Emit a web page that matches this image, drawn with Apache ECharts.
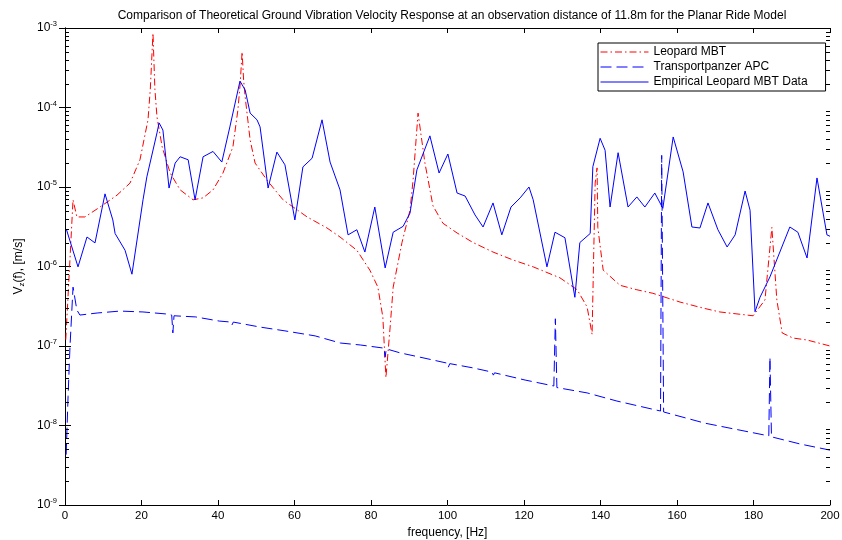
<!DOCTYPE html>
<html>
<head>
<meta charset="utf-8">
<script src="https://cdn.jsdelivr.net/npm/echarts@6/dist/echarts.min.js"></script>
<style>
  html, body { margin: 0; padding: 0; background: #fff; }
  #chart { width: 842px; height: 540px; }
</style>
</head>
<body>
<div id="chart"></div>
<script>
// Leopard MBT (theory), dash-dot red
const leopardFreq = [0.2, 1.2, 2.1, 3.1, 5.2, 9.15, 13.6, 17.0, 19.6, 21.7, 22.3, 23.0, 23.5, 24.05, 25.4, 27.5, 30.1, 33.5, 36.1, 38.7, 41.3, 43.9, 45.2, 45.8, 46.3, 46.7, 47.1, 48.4, 49.7, 52.8, 57.0, 63.3, 68.5, 71.9, 76.3, 79.7, 81.8, 83.1, 83.9, 85.0, 85.8, 88.1, 90.2, 91.0, 92.3, 94.1, 96.2, 98.8, 102.5, 106.7, 111.9, 117.1, 122.4, 129.4, 133.9, 136.5, 137.8, 138.6, 139.1, 139.3, 140.7, 145.1, 149.5, 153.7, 160.8, 166.8, 171.2, 179.9, 183.0, 184.8, 186.1, 187.5, 190.3, 194.0, 200];
const leopardVel = [1.2e-7, 1.0e-6, 6.9e-6, 4.2e-6, 4.2e-6, 5.6e-6, 7.9e-6, 1.12e-5, 2.2e-5, 7e-5, 1.7e-4, 8.6e-4, 1.7e-4, 7.6e-5, 3.2e-5, 1.5e-5, 9.2e-6, 6.9e-6, 7.3e-6, 9.2e-6, 1.5e-5, 3.2e-5, 9.3e-5, 2.0e-4, 5.0e-4, 2.2e-4, 1.36e-4, 3.9e-5, 2.0e-5, 1.22e-5, 6.9e-6, 4.2e-6, 3.05e-6, 2.35e-6, 1.6e-6, 9.0e-7, 5.5e-7, 2.3e-7, 4.0e-8, 1.73e-7, 5.5e-7, 2.0e-6, 5.1e-6, 1.22e-5, 8.5e-5, 2.0e-5, 5.8e-6, 3.5e-6, 2.64e-6, 2.0e-6, 1.52e-6, 1.21e-6, 9.9e-7, 7.2e-7, 5.1e-7, 3.1e-7, 1.4e-7, 1.12e-5, 1.74e-5, 3.1e-6, 9.0e-7, 5.8e-7, 5.1e-7, 4.6e-7, 3.57e-7, 3.0e-7, 2.68e-7, 2.4e-7, 3.8e-7, 3.1e-6, 3.8e-7, 1.46e-7, 1.26e-7, 1.19e-7, 1.0e-7];

// Transportpanzer APC (theory), dashed blue
const apcFreq = [0.3, 0.8, 1.3, 2.1, 3.1, 3.9, 8.4, 14.4, 20.4, 26.4, 27.9, 28.2, 28.5, 34.2, 40.3, 43.4, 43.7, 44.0, 51.0, 57.5, 65.4, 72.0, 77.2, 83.4, 83.7, 84.0, 87.6, 93.6, 99.8, 100.2, 100.6, 106.7, 111.6, 112.0, 112.3, 120.3, 127.8, 128.2, 128.6, 136.5, 144.3, 155.7, 156.0, 156.5, 167.3, 184.0, 184.3, 184.7, 192.2, 200];
const apcVel = [4.3e-9, 2.3e-8, 9.7e-8, 5.5e-7, 2.84e-7, 2.45e-7, 2.6e-7, 2.75e-7, 2.68e-7, 2.53e-7, 2.45e-7, 1.46e-7, 2.4e-7, 2.32e-7, 2.06e-7, 2.0e-7, 1.85e-7, 2.0e-7, 1.73e-7, 1.55e-7, 1.34e-7, 1.09e-7, 1.03e-7, 9.4e-8, 7.3e-8, 9.2e-8, 8.2e-8, 7.1e-8, 6.1e-8, 5.4e-8, 6.0e-8, 5.3e-8, 4.7e-8, 4.3e-8, 4.6e-8, 3.73e-8, 3.14e-8, 2.2e-7, 3.0e-8, 2.57e-8, 2.03e-8, 1.52e-8, 2.5e-5, 1.48e-8, 1.07e-8, 7.4e-9, 7.2e-8, 7.2e-9, 5.85e-9, 4.9e-9];

// Empirical Leopard MBT data, solid blue
const empFreq = [0.4, 3.4, 5.75, 7.84, 10.46, 12.5, 13.1, 15.7, 17.5, 20.4, 21.4, 24.05, 24.6, 25.6, 27.2, 28.8, 30.1, 32.2, 34.0, 36.1, 38.7, 41.0, 43.1, 45.75, 47.1, 48.4, 50.2, 51.0, 53.1, 55.4, 57.5, 60.1, 62.2, 64.6, 67.2, 69.3, 71.9, 74.0, 76.3, 78.4, 81.0, 83.7, 85.8, 88.4, 90.2, 92.0, 95.4, 97.8, 100.1, 102.5, 104.6, 107.2, 109.3, 111.9, 114.2, 116.6, 119.0, 121.3, 122.4, 126.0, 128.1, 130.7, 133.3, 134.6, 137.3, 138.0, 139.9, 141.2, 142.5, 144.6, 147.2, 149.5, 151.6, 154.2, 156.3, 159.0, 161.6, 163.9, 166.0, 168.1, 170.7, 173.1, 175.2, 177.8, 179.1, 180.4, 181.7, 184.3, 189.5, 191.6, 194.0, 196.6, 199.2, 200];
const empVel = [2.9e-6, 9.9e-7, 2.35e-6, 1.98e-6, 8.2e-6, 3.85e-6, 2.6e-6, 1.6e-6, 8.0e-7, 6.9e-6, 1.34e-5, 4.8e-5, 6.4e-5, 5.2e-5, 9.7e-6, 2.0e-5, 2.4e-5, 2.2e-5, 6.9e-6, 2.4e-5, 2.8e-5, 2.06e-5, 5.7e-5, 2.15e-4, 1.66e-4, 8.5e-5, 7.0e-5, 5.7e-5, 9.7e-6, 2.75e-5, 1.9e-5, 3.85e-6, 1.79e-5, 2.3e-5, 7.0e-5, 2.06e-5, 9.2e-6, 2.5e-6, 2.9e-6, 1.52e-6, 5.6e-6, 9.6e-7, 2.7e-6, 3.2e-6, 4.7e-6, 1.64e-5, 4.4e-5, 1.5e-5, 2.6e-5, 8.4e-6, 7.7e-6, 4.45e-6, 3.14e-6, 6.3e-6, 2.5e-6, 5.6e-6, 7.3e-6, 1.0e-5, 6.9e-6, 9.9e-7, 2.7e-6, 2.3e-6, 4.1e-7, 2.0e-6, 2.6e-6, 1.8e-5, 4.1e-5, 2.9e-5, 5.6e-6, 2.7e-5, 5.6e-6, 7.5e-6, 5.6e-6, 8.4e-6, 5.4e-6, 4.26e-5, 1.55e-5, 3.14e-6, 3.05e-6, 6.3e-6, 2.9e-6, 1.76e-6, 2.5e-6, 8.9e-6, 5.1e-6, 2.7e-7, 4.1e-7, 7.4e-7, 3.14e-6, 2.7e-6, 1.28e-6, 1.3e-5, 2.5e-6, 2.4e-6];

const xTicks = [0, 20, 40, 60, 80, 100, 120, 140, 160, 180, 200];
const decades = [-9, -8, -7, -6, -5, -4, -3];
const minorMantissas = [2, 3, 4, 5, 6, 7, 8, 9];

const FONT = 'Liberation Sans, Arial, sans-serif';

function pairs(fs, vs) {
  return fs.map((f, i) => [f, vs[i]]);
}

const chart = echarts.init(document.getElementById('chart'));

function tickLabel(v) {
  const e = Math.round(Math.log10(v));
  return '10{sup|' + e + '}';
}

// minor log ticks on left and right edges (matlab style)
function renderMinorTicks(params, api) {
  const children = [];
  const left = api.coord([xTicks[0], 1e-6])[0];
  const right = api.coord([xTicks[xTicks.length - 1], 1e-6])[0];
  decades.slice(0, -1).forEach(d => {
    minorMantissas.forEach(m => {
      const y = Math.round(api.coord([0, m * Math.pow(10, d)])[1]) + 0.5;
      children.push({ type: 'line', shape: { x1: left, y1: y, x2: left + 4, y2: y }, style: { stroke: '#000', lineWidth: 1 } });
      children.push({ type: 'line', shape: { x1: right, y1: y, x2: right - 4, y2: y }, style: { stroke: '#000', lineWidth: 1 } });
    });
  });
  return { type: 'group', children: children };
}

const option = {
  animation: false,
  backgroundColor: '#fff',
  title: {
    text: 'Comparison of Theoretical Ground Vibration Velocity Response at an observation distance of 11.8m for the Planar Ride Model',
    left: 447,
    textAlign: 'center',
    top: 5,
    textStyle: { fontFamily: FONT, fontSize: 12, fontWeight: 'normal', color: '#000' }
  },
  legend: {
    orient: 'vertical',
    left: 598,
    top: 43,
    padding: [3, 18, 3, 2],
    itemGap: 3,
    itemWidth: 48,
    itemHeight: 12,
    borderColor: '#000',
    borderWidth: 1,
    borderRadius: 0,
    backgroundColor: '#fff',
    itemStyle: { opacity: 0 },
    lineStyle: { width: 1 },
    textStyle: { fontFamily: FONT, fontSize: 12, color: '#000' },
    data: ['Leopard MBT', 'Transportpanzer APC', 'Empirical Leopard MBT Data']
  },
  grid: { left: 65, right: 12, top: 28, bottom: 35, outerBoundsMode: 'none' },
  xAxis: [
    {
      type: 'value', min: 0, max: 200, interval: 20,
      name: 'frequency, [Hz]', nameLocation: 'middle', nameGap: 19,
      nameTextStyle: { fontFamily: FONT, fontSize: 12, color: '#000' },
      axisLine: { lineStyle: { color: '#000' } },
      axisTick: { inside: true, length: 5, lineStyle: { color: '#000' } },
      axisLabel: { fontFamily: FONT, fontSize: 11.5, color: '#000', margin: 5 },
      splitLine: { show: false }
    },
    {
      type: 'value', min: 0, max: 200, interval: 20, position: 'top',
      axisLine: { lineStyle: { color: '#000' } },
      axisTick: { inside: true, length: 5, lineStyle: { color: '#000' } },
      axisLabel: { show: false },
      splitLine: { show: false }
    }
  ],
  yAxis: [
    {
      type: 'log', logBase: 10, min: 1e-9, max: 1e-3, splitNumber: 6,
      name: 'V{sub|z}(f), [m/s]', nameLocation: 'middle', nameGap: 38, nameRotate: 90,
      nameTextStyle: {
        fontFamily: FONT, fontSize: 12, color: '#000',
        rich: { sub: { fontFamily: FONT, fontSize: 8, verticalAlign: 'bottom', padding: [6, 0, 0, 0] } }
      },
      axisLine: { lineStyle: { color: '#000' } },
      axisTick: { inside: true, length: 6, lineStyle: { color: '#000' } },
      axisLabel: {
        fontFamily: FONT, fontSize: 12, color: '#000', margin: 8,
        formatter: tickLabel,
        rich: { sup: { fontFamily: FONT, fontSize: 7.5, verticalAlign: 'top', padding: [0, 0, 8, 0] } }
      },
      splitLine: { show: false }
    },
    {
      type: 'log', logBase: 10, min: 1e-9, max: 1e-3, splitNumber: 6, position: 'right',
      axisLine: { lineStyle: { color: '#000' } },
      axisTick: { inside: true, length: 6, lineStyle: { color: '#000' } },
      axisLabel: { show: false },
      splitLine: { show: false }
    }
  ],
  series: [
    {
      name: 'Leopard MBT', type: 'line', showSymbol: false, symbol: 'none',
      data: pairs(leopardFreq, leopardVel),
      lineStyle: { color: '#ff0000', width: 1, type: [7, 3, 1.5, 3] },
      itemStyle: { color: '#ff0000' }, z: 3
    },
    {
      name: 'Transportpanzer APC', type: 'line', showSymbol: false, symbol: 'none',
      data: pairs(apcFreq, apcVel),
      lineStyle: { color: '#0000ff', width: 1, type: [11, 5] },
      itemStyle: { color: '#0000ff' }, z: 3
    },
    {
      name: 'Empirical Leopard MBT Data', type: 'line', showSymbol: false, symbol: 'none',
      data: pairs(empFreq, empVel),
      lineStyle: { color: '#0000ff', width: 1 },
      itemStyle: { color: '#0000ff' }, z: 4
    },
    {
      type: 'custom', silent: true, renderItem: renderMinorTicks,
      data: [[0, 1e-6]], z: 5
    }
  ]
};

chart.setOption(option);
</script>
</body>
</html>
